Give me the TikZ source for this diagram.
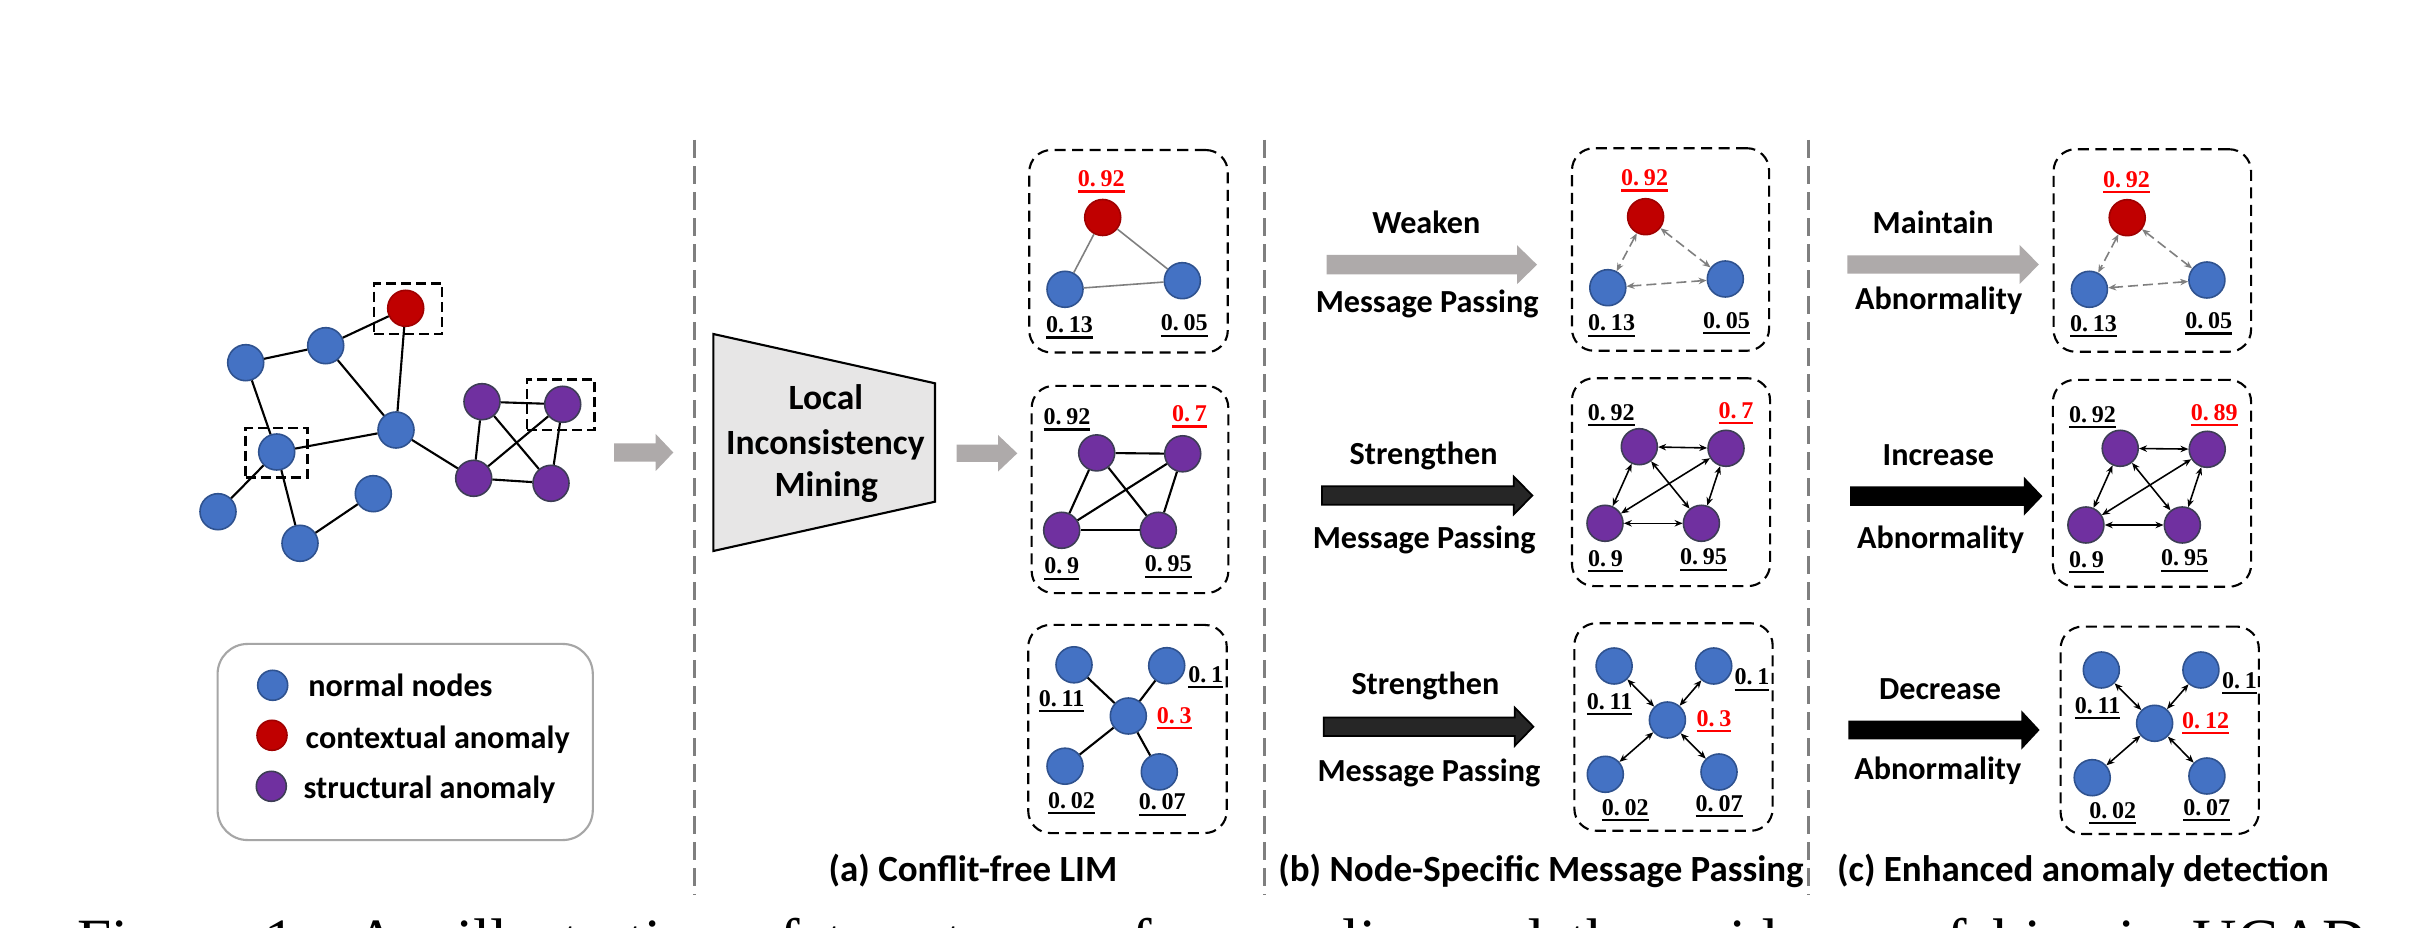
\documentclass[tikz,border=0pt]{standalone}
\usepackage{fontspec}
\setmainfont{Liberation Serif}
\newfontfamily\carl{Carlito}
\usetikzlibrary{arrows.meta}
\definecolor{nblue}{HTML}{4472C4}
\definecolor{nblueb}{HTML}{2F528F}
\definecolor{nred}{HTML}{C00000}
\definecolor{nredb}{HTML}{A00000}
\definecolor{npur}{HTML}{7030A0}
\definecolor{npurb}{HTML}{3D3D55}
\definecolor{agray}{HTML}{AEAAAA}
\definecolor{sepgray}{HTML}{7F7F7F}
\definecolor{trapfill}{HTML}{E7E6E6}
\definecolor{darkarr}{HTML}{262626}
\definecolor{lred}{HTML}{FF0000}
\definecolor{leggray}{HTML}{A6A6A6}
\newcommand\myul[1]{\vtop{\hbox{#1}\kern0.9pt\hrule height0.6pt}}
\newcommand\nsp{\kern0.2em}
\newcommand\blk[7]{\path[#1] (#2,#5-#6) -- (#3,#5-#6) -- (#3,#5-#7) -- (#4,#5) -- (#3,#5+#7) -- (#3,#5+#6) -- (#2,#5+#6) -- cycle;}
\tikzset{
  nd/.style={circle, inner sep=0pt, minimum size=0.36cm, line width=0.45pt},
  bn/.style={nd, fill=nblue, draw=nblueb},
  rn/.style={nd, fill=nred, draw=nredb},
  pn/.style={nd, fill=npur, draw=npurb},
  lgn/.style={circle, inner sep=0pt, minimum size=0.30cm, line width=0.45pt},
  ln/.style={line width=0.6pt},
  gln/.style={line width=0.45pt, draw=sepgray},
  dln/.style={line width=0.45pt, {Stealth[length=0.08cm,width=0.065cm]}-{Stealth[length=0.08cm,width=0.065cm]}},
  gdln/.style={dln, draw=sepgray, dash pattern=on 0.1cm off 0.05cm},
  dbox/.style={draw, line width=0.6pt, dash pattern=on 0.11cm off 0.065cm, rounded corners=0.22cm, inner sep=0pt},
  selbox/.style={draw, line width=0.7pt, dash pattern=on 0.1cm off 0.05cm, inner sep=0pt},
  vsep/.style={draw=sepgray, line width=0.85pt, dash pattern=on 0.18cm off 0.08cm},
  num/.style={font=\bfseries\fontsize{6.83pt}{8pt}\selectfont, inner sep=0pt, anchor=base},
  rnum/.style={num, text=lred},
  lab/.style={font=\carl\bfseries\fontsize{9.15pt}{11pt}\selectfont, inner sep=0pt, anchor=base},
  leglab/.style={font=\carl\bfseries\fontsize{9.15pt}{11pt}\selectfont, inner sep=0pt, anchor=base west},
  traplab/.style={font=\carl\bfseries\fontsize{10.1pt}{12pt}\selectfont, inner sep=0pt, anchor=base},
  captxt/.style={font=\carl\bfseries\fontsize{10.5pt}{12pt}\selectfont, inner sep=0pt, anchor=base},
}
\begin{document}
\begin{tikzpicture}[x=0.01cm,y=-0.01cm]
\clip (0,0) rectangle (2409,928);
\fill[white] (0,0) rectangle (2409,928);

% separators
\coordinate (s1t) at (694.5,140); \coordinate (s1b) at (694.5,895);
\coordinate (s2t) at (1264.5,140); \coordinate (s2b) at (1264.5,895);
\coordinate (s3t) at (1808.3,140); \coordinate (s3b) at (1808.3,895);
\draw[vsep] (s1t) -- (s1b);
\draw[vsep] (s2t) -- (s2b);
\draw[vsep] (s3t) -- (s3b);

% ---------- input graph ----------
\node[rn] (g0) at (405.7,308.3) {};
\node[bn] (g1) at (325.7,345.7) {};
\node[bn] (g2) at (245.7,362.7) {};
\node[bn] (g3) at (396,430) {};
\node[bn] (g4) at (276.7,452) {};
\node[bn] (g5) at (218,511.7) {};
\node[bn] (g6) at (300,543.3) {};
\node[bn] (g7) at (373.3,493.7) {};
\node[pn] (p1) at (482,401.7) {};
\node[pn] (p2) at (562.7,404.3) {};
\node[pn] (p3) at (473.7,478.3) {};
\node[pn] (p4) at (551,483.3) {};
\draw[ln] (g1) -- (g0);
\draw[ln] (g2) -- (g1);
\draw[ln] (g1) -- (g3);
\draw[ln] (g0) -- (g3);
\draw[ln] (g2) -- (g4);
\draw[ln] (g4) -- (g3);
\draw[ln] (g4) -- (g5);
\draw[ln] (g4) -- (g6);
\draw[ln] (g6) -- (g7);
\draw[ln] (g3) -- (p3);
\draw[ln] (p1) -- (p2);
\draw[ln] (p1) -- (p3);
\draw[ln] (p1) -- (p4);
\draw[ln] (p2) -- (p3);
\draw[ln] (p2) -- (p4);
\draw[ln] (p3) -- (p4);
\node[selbox, minimum width=0.68cm, minimum height=0.507cm] (sb1) at (408,308.7) {};
\node[selbox, minimum width=0.616cm, minimum height=0.493cm] (sb2) at (276.5,452.7) {};
\node[selbox, minimum width=0.673cm, minimum height=0.507cm] (sb3) at (560.7,404.7) {};

% legend
\node[draw=leggray, line width=0.6pt, rounded corners=0.3cm, minimum width=3.75cm, minimum height=1.96cm, inner sep=0pt] (leg) at (405.2,742) {};
\node[lgn, fill=nblue, draw=nblueb] (lc1) at (272.7,685.3) {};
\node[lgn, fill=nred, draw=nredb] (lc2) at (272,735.3) {};
\node[lgn, fill=npur, draw=npurb] (lc3) at (271.3,786.3) {};
\node[leglab] (lt1) at (307.7,696.7) {normal nodes};
\node[leglab] (lt2) at (305,748.3) {contextual anomaly};
\node[leglab] (lt3) at (303,798.3) {structural anomaly};

% arrow to LIM
\blk{fill=agray}{614}{655.7}{673.3}{452.5}{9.2}{18.5}

% trapezoid
\draw[fill=trapfill, line width=0.6pt] (713.3,334) -- (935,383.3) -- (935,501.7) -- (713.3,551) -- cycle;
\node[traplab] (t1) at (825.8,410) {Local};
\node[traplab] (t2) at (825.3,455) {Inconsistency};
\node[traplab] (t3) at (826.3,496.7) {Mining};

\blk{fill=agray}{956.7}{998}{1017.3}{453.3}{8.7}{18.3}

% ---------- (a) ----------
\node[dbox, minimum width=1.984cm, minimum height=2.023cm] (ba1) at (1128.5,251.25) {};
\node[dbox, minimum width=1.966cm, minimum height=2.071cm] (ba2) at (1130,489.5) {};
\node[dbox, minimum width=1.984cm, minimum height=2.08cm] (ba3) at (1127.5,729) {};

\node[rn] (a1r) at (1102.7,217.5) {};
\node[bn] (a1l) at (1065,289.3) {};
\node[bn] (a1b) at (1182.3,280.7) {};
\draw[gln] (a1r) -- (a1l);
\draw[gln] (a1r) -- (a1b);
\draw[gln] (a1l) -- (a1b);
\node[rnum] (a1rn) at (1101.3,187) {\myul{0.\nsp92}};
\node[num] (a1ln) at (1069.5,333) {\myul{0.\nsp13}};
\node[num] (a1bn) at (1184.2,331) {\myul{0.\nsp05}};

\node[pn] (a2a) at (1096.7,452.9) {};
\node[pn] (a2b) at (1182.7,453.8) {};
\node[pn] (a2c) at (1061.7,530.3) {};
\node[pn] (a2d) at (1158.3,530.3) {};
\draw[ln] (a2a) -- (a2b);
\draw[ln] (a2a) -- (a2c);
\draw[ln] (a2a) -- (a2d);
\draw[ln] (a2c) -- (a2b);
\draw[ln] (a2c) -- (a2d);
\draw[ln] (a2b) -- (a2d);
\node[num] (a2an) at (1067,425) {\myul{0.\nsp92}};
\node[rnum] (a2bn) at (1189.5,422) {\myul{0.\nsp7}};
\node[num] (a2cn) at (1061.7,574) {\myul{0.\nsp9}};
\node[num] (a2dn) at (1168.3,572) {\myul{0.\nsp95}};

\node[bn] (a3a) at (1074,664.8) {};
\node[bn] (a3b) at (1166.7,665.7) {};
\node[bn] (a3c) at (1128.3,716) {};
\node[bn] (a3d) at (1065,766.2) {};
\node[bn] (a3e) at (1159.3,771.9) {};
\draw[ln] (a3c) -- (a3a);
\draw[ln] (a3c) -- (a3b);
\draw[ln] (a3c) -- (a3d);
\draw[ln] (a3c) -- (a3e);
\node[num] (a3an) at (1061.5,706) {\myul{0.\nsp11}};
\node[num] (a3bn) at (1205.8,682.5) {\myul{0.\nsp1}};
\node[rnum] (a3cn) at (1174.2,723) {\myul{0.\nsp3}};
\node[num] (a3dn) at (1071.5,808) {\myul{0.\nsp02}};
\node[num] (a3en) at (1162.2,810) {\myul{0.\nsp07}};

\node[captxt] (capa) at (973,881) {(a) Conflit-free LIM};

% ---------- (b) ----------
\node[lab] (bl1) at (1426.3,234) {Weaken};
\blk{fill=agray}{1326.5}{1517}{1537}{264.7}{9.7}{19.5}
\node[lab] (bl2) at (1427.2,313) {Message Passing};
\node[lab] (bl3) at (1423.6,465) {Strengthen};
\blk{fill=darkarr, draw=black, line width=0.5pt}{1322}{1513.8}{1532.4}{495.5}{9.2}{18.8}
\node[lab] (bl4) at (1424.2,548.3) {Message Passing};
\node[lab] (bl5) at (1425.4,695) {Strengthen};
\blk{fill=darkarr, draw=black, line width=0.5pt}{1323.7}{1514.8}{1533.4}{726.7}{9.3}{19}
\node[lab] (bl6) at (1428.9,781.7) {Message Passing};

\node[dbox, minimum width=1.97cm, minimum height=2.024cm] (bb1) at (1670.5,249.5) {};
\node[dbox, minimum width=1.98cm, minimum height=2.077cm] (bb2) at (1671,482.2) {};
\node[dbox, minimum width=1.982cm, minimum height=2.074cm] (bb3) at (1673.5,727) {};

\node[rn] (b1r) at (1645.6,216.7) {};
\node[bn] (b1l) at (1607.8,287.7) {};
\node[bn] (b1b) at (1725.3,279) {};
\draw[gdln] (b1r) -- (b1l);
\draw[gdln] (b1r) -- (b1b);
\draw[gdln] (b1l) -- (b1b);
\node[rnum] (b1rn) at (1644.6,186) {\myul{0.\nsp92}};
\node[num] (b1ln) at (1611.6,331) {\myul{0.\nsp13}};
\node[num] (b1bn) at (1726.5,328.3) {\myul{0.\nsp05}};

\node[pn] (b2a) at (1639.3,446.7) {};
\node[pn] (b2b) at (1726,448.3) {};
\node[pn] (b2c) at (1605,523.3) {};
\node[pn] (b2d) at (1701.4,523.3) {};
\draw[dln] (b2a) -- (b2b);
\draw[dln] (b2a) -- (b2c);
\draw[dln] (b2a) -- (b2d);
\draw[dln] (b2c) -- (b2b);
\draw[dln] (b2c) -- (b2d);
\draw[dln] (b2b) -- (b2d);
\node[num] (b2an) at (1611.3,420.7) {\myul{0.\nsp92}};
\node[rnum] (b2bn) at (1736,418.3) {\myul{0.\nsp7}};
\node[num] (b2cn) at (1605.5,566.7) {\myul{0.\nsp9}};
\node[num] (b2dn) at (1703.4,565) {\myul{0.\nsp95}};

\node[bn] (b3a) at (1614.1,666) {};
\node[bn] (b3b) at (1713.7,666) {};
\node[bn] (b3c) at (1667.4,720) {};
\node[bn] (b3d) at (1605.3,774.3) {};
\node[bn] (b3e) at (1719,772) {};
\draw[dln] (b3c) -- (b3a);
\draw[dln] (b3c) -- (b3b);
\draw[dln] (b3c) -- (b3d);
\draw[dln] (b3c) -- (b3e);
\node[num] (b3an) at (1609.5,709.3) {\myul{0.\nsp11}};
\node[num] (b3bn) at (1752,685) {\myul{0.\nsp1}};
\node[rnum] (b3cn) at (1713.9,726) {\myul{0.\nsp3}};
\node[num] (b3dn) at (1625.3,815) {\myul{0.\nsp02}};
\node[num] (b3en) at (1719.1,811.7) {\myul{0.\nsp07}};

\node[captxt] (capb) at (1541,881) {(b) Node-Specific Message Passing};

% ---------- (c) ----------
\node[lab] (cl1) at (1933.1,234) {Maintain};
\blk{fill=agray}{1847.3}{2019.6}{2038.9}{264.5}{9.2}{19.5}
\node[lab] (cl2) at (1938.7,310) {Abnormality};
\node[lab] (cl3) at (1938.4,466) {Increase};
\blk{fill=black}{1850.2}{2023.8}{2042.4}{496.2}{9.7}{19.5}
\node[lab] (cl4) at (1940.5,548.3) {Abnormality};
\node[lab] (cl5) at (1940.1,699) {Decrease};
\blk{fill=black}{1848.4}{2021.3}{2039.6}{730}{9.3}{19.7}
\node[lab] (cl6) at (1937.8,780) {Abnormality};

\node[dbox, minimum width=1.974cm, minimum height=2.024cm] (bc1) at (2152.3,250.5) {};
\node[dbox, minimum width=1.981cm, minimum height=2.067cm] (bc2) at (2152,483.3) {};
\node[dbox, minimum width=1.982cm, minimum height=2.073cm] (bc3) at (2159.7,730.3) {};

\node[rn] (c1r) at (2127.2,217.7) {};
\node[bn] (c1l) at (2089.4,289.3) {};
\node[bn] (c1b) at (2206.9,280) {};
\draw[gdln] (c1r) -- (c1l);
\draw[gdln] (c1r) -- (c1b);
\draw[gdln] (c1l) -- (c1b);
\node[rnum] (c1rn) at (2126.4,187.3) {\myul{0.\nsp92}};
\node[num] (c1ln) at (2093.4,331.7) {\myul{0.\nsp13}};
\node[num] (c1bn) at (2208.8,329) {\myul{0.\nsp05}};

\node[pn] (c2a) at (2120.2,448.3) {};
\node[pn] (c2b) at (2207.2,449.3) {};
\node[pn] (c2c) at (2085.9,525) {};
\node[pn] (c2d) at (2182.3,525) {};
\draw[dln] (c2a) -- (c2b);
\draw[dln] (c2a) -- (c2c);
\draw[dln] (c2a) -- (c2d);
\draw[dln] (c2c) -- (c2b);
\draw[dln] (c2c) -- (c2d);
\draw[dln] (c2b) -- (c2d);
\node[num] (c2an) at (2092.5,422.7) {\myul{0.\nsp92}};
\node[rnum] (c2bn) at (2214.2,420.7) {\myul{0.\nsp89}};
\node[num] (c2cn) at (2086.4,567.3) {\myul{0.\nsp9}};
\node[num] (c2dn) at (2184.6,566) {\myul{0.\nsp95}};

\node[bn] (c3a) at (2101.3,670) {};
\node[bn] (c3b) at (2200.9,670) {};
\node[bn] (c3c) at (2154.6,723.3) {};
\node[bn] (c3d) at (2092.2,777.7) {};
\node[bn] (c3e) at (2206.9,776) {};
\draw[dln] (c3c) -- (c3a);
\draw[dln] (c3c) -- (c3b);
\draw[dln] (c3c) -- (c3d);
\draw[dln] (c3c) -- (c3e);
\node[num] (c3an) at (2097.6,713.3) {\myul{0.\nsp11}};
\node[num] (c3bn) at (2239.5,688.3) {\myul{0.\nsp1}};
\node[rnum] (c3cn) at (2205.6,728.3) {\myul{0.\nsp12}};
\node[num] (c3dn) at (2112.7,818.3) {\myul{0.\nsp02}};
\node[num] (c3en) at (2206.7,815) {\myul{0.\nsp07}};

\node[captxt] (capc) at (2082.9,881) {(c) Enhanced anomaly detection};

% clipped figure caption
\node[anchor=base west, inner sep=0pt, font=\fontsize{17.5pt}{20pt}\selectfont] (figcap) at (77,961) {\makebox[22.88cm][s]{Figure 1: An illustration of two types of anomalies and the evidence of bias in UCAD}};
\end{tikzpicture}
\end{document}
